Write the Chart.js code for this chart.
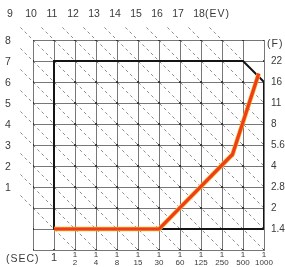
<!DOCTYPE html>
<html>
<head>
<meta charset="utf-8">
<script src="https://cdn.jsdelivr.net/npm/chart.js@4"></script>
<style>
    html, body { margin: 0; padding: 0; background: #fff; }
    #wrap { width: 285px; height: 267px; }
</style>
</head>
<body>
<div id="wrap"><canvas id="evChart" width="285" height="267"></canvas></div>
<script>
// Shutter speeds (1/x sec), one per TV step starting at TV 0
const shutterLabels = ['1', '2', '4', '8', '15', '30', '60', '125', '250', '500', '1000'];
// f-numbers, one per AV step starting at AV 1
const fLabels = ['1.4', '2', '2.8', '4', '5.6', '8', '11', '16', '22'];
// Exposure values of the dashed diagonals
const evValues = [1, 2, 3, 4, 5, 6, 7, 8, 9, 10, 11, 12, 13, 14, 15, 16, 17, 18];

// Program line (red)
const programTv = [0, 5, 8.5, 9.75];
const programAv = [1, 1, 4.55, 8.4];

// Limits of the program (black frame)
const limitTv = [0, 0, 9, 10, 10, 5];
const limitAv = [1, 9, 9, 8, 1, 1];

// grid range, in TV / AV steps
const TV_MIN = -1, TV_MAX = 10;
const AV_MIN = 0, AV_MAX = 10;

const TEXT = '#3a3a3a';
const FONT = "'Liberation Sans', Arial, sans-serif";

Chart.defaults.font.family = FONT;
Chart.defaults.color = TEXT;

function zip(xs, ys) {
    return xs.map((v, i) => ({ x: v, y: ys[i] }));
}

// where each EV label sits (just outside the grid, up-left)
function evLabelPoint(ev) {
    return ev <= 8 ? { x: TV_MIN - 1, y: ev + 2 } : { x: ev - 11, y: AV_MAX + 1 };
}

function diagonal(ev) {
    const p = evLabelPoint(ev);
    const start = { x: p.x + 0.4, y: p.y - 0.4 };
    const end = ev <= TV_MAX ? { x: ev, y: AV_MIN } : { x: TV_MAX, y: ev - TV_MAX };
    return {
        data: [start, end],
        showLine: true,
        borderColor: '#8c8c8c',
        borderWidth: 1,
        borderDash: [3, 3],
        pointRadius: 0,
        clip: false
    };
}

const dots = [];
for (let tv = TV_MIN; tv <= TV_MAX; tv++) {
    for (let av = AV_MIN; av <= AV_MAX; av++) dots.push({ x: tv, y: av });
}

const textPlugin = {
    id: 'evText',
    afterDraw(chart) {
        const ctx = chart.ctx;
        const xs = chart.scales.x, ys = chart.scales.y;
        ctx.save();
        ctx.fillStyle = TEXT;
        ctx.font = `10.5px ${FONT}`;
        ctx.textAlign = 'center';
        ctx.textBaseline = 'middle';

        evValues.forEach(ev => {
            const p = evLabelPoint(ev);
            const px = xs.getPixelForValue(p.x);
            const py = ys.getPixelForValue(p.y);
            if (ev <= 8) ctx.fillText(String(ev), px - 4, py + 1);
            else ctx.fillText(String(ev), px - 2, py - 5);
        });

        // unit captions
        ctx.letterSpacing = '1px';
        const last = evLabelPoint(evValues[evValues.length - 1]);
        ctx.textAlign = 'left';
        ctx.fillText('(EV)', xs.getPixelForValue(last.x) + 4, ys.getPixelForValue(last.y) - 5);
        ctx.fillText('(F)', xs.right + 3, ys.getPixelForValue(AV_MAX) + 4);
        ctx.fillText('(SEC)', 6, ys.bottom + 9);
        ctx.restore();
    }
};

new Chart(document.getElementById('evChart'), {
    type: 'scatter',
    data: {
        datasets: [
            {
                data: zip(programTv, programAv),
                showLine: true,
                borderColor: '#ef3d1b',
                borderWidth: 3.2,
                pointRadius: 0
            },
            {
                data: zip(programTv, programAv),
                showLine: true,
                borderColor: '#f9b526',
                borderWidth: 4.5,
                pointRadius: 0
            },
            {
                data: zip(limitTv, limitAv),
                showLine: true,
                borderColor: '#141414',
                borderWidth: 2,
                pointRadius: 0
            },
            {
                data: dots,
                pointRadius: 1.1,
                pointBackgroundColor: '#222',
                pointBorderWidth: 0
            },
            ...evValues.map(diagonal)
        ]
    },
    options: {
        responsive: false,
        animation: false,
        devicePixelRatio: 1,
        layout: { padding: { top: 40, left: 0, right: 0, bottom: 0 } },
        plugins: { legend: { display: false }, tooltip: { enabled: false } },
        scales: {
            x: {
                type: 'linear',
                position: 'bottom',
                min: TV_MIN, max: TV_MAX,
                afterFit: s => { s.height = 17; },
                grid: { color: '#777', lineWidth: 1, drawTicks: false },
                border: { color: '#777' },
                ticks: {
                    stepSize: 1,
                    autoSkip: false,
                    maxRotation: 0,
                    padding: 1,
                    color: TEXT,
                    font: c => (c.tick && c.tick.value === 0)
                        ? { size: 11, lineHeight: 1.2 }
                        : { size: 8, lineHeight: 0.95 },
                    callback: v => {
                        if (v < 0) return '';
                        if (v === 0) return shutterLabels[0];
                        return ['1', shutterLabels[v]];
                    }
                }
            },
            y: {
                type: 'linear',
                position: 'left',
                min: AV_MIN, max: AV_MAX,
                afterFit: s => { s.width = 33; },
                grid: { color: '#777', lineWidth: 1, drawTicks: false },
                border: { color: '#777' },
                ticks: { stepSize: 1, display: false }
            },
            y2: {
                type: 'linear',
                position: 'right',
                min: AV_MIN, max: AV_MAX,
                afterFit: s => { s.width = 21; },
                grid: { drawOnChartArea: false, drawTicks: false },
                border: { display: false },
                ticks: {
                    stepSize: 1,
                    padding: 7,
                    color: TEXT,
                    font: { size: 10 },
                    callback: v => fLabels[v - 1] || ''
                }
            }
        }
    },
    plugins: [textPlugin]
});
</script>
</body>
</html>
